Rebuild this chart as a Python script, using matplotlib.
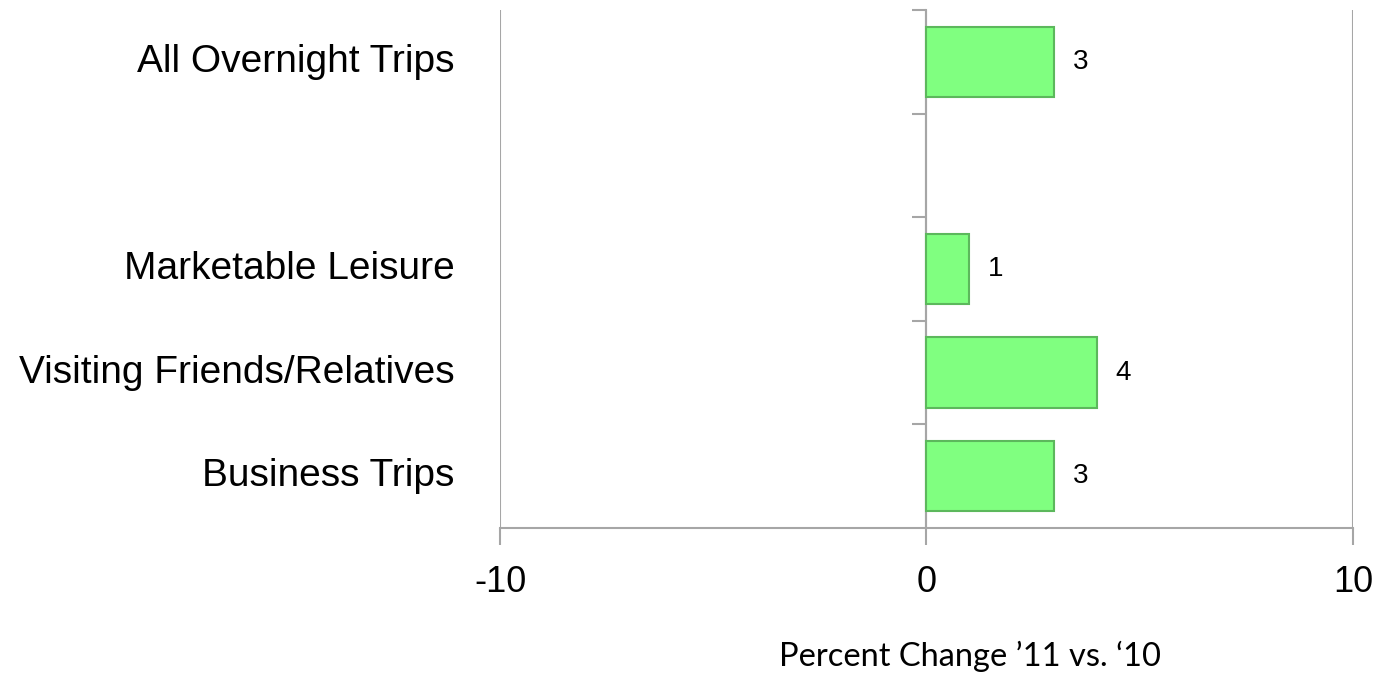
import matplotlib
matplotlib.use("Agg")
import matplotlib.pyplot as plt
from matplotlib.ticker import FixedLocator

categories = ["All Overnight Trips", "", "Marketable Leisure",
              "Visiting Friends/Relatives", "Business Trips"]
values = [3, None, 1, 4, 3]
xticks = [-10, 0, 10]

gray = "#a6a6a6"
fig = plt.figure(figsize=(13.78, 6.74), dpi=100)
ax = fig.add_axes([500/1378, 1-528/674, 853/1378, 518/674])

pos = list(range(len(categories)))
for p, v in zip(pos, values):
    if v is None:
        continue
    ax.barh(p, v, height=0.68, color="#80ff80", edgecolor="#5cb85c", linewidth=1.5, zorder=3)
    ax.text(v + 0.62, p, str(v), va="center", ha="center", fontsize=20,
            family="Liberation Sans", zorder=4)

ax.set_xlim(-10, 10)
ax.set_ylim(len(categories) - 0.5, -0.5)

for s in ["top", "right"]:
    ax.spines[s].set_visible(False)
ax.spines["left"].set_position(("data", 0))
ax.spines["left"].set_color(gray)
ax.spines["left"].set_linewidth(1.5)
ax.spines["bottom"].set_color(gray)
ax.spines["bottom"].set_linewidth(1.5)

ax.set_xticks(xticks)
ax.set_xticklabels([str(t) for t in xticks], fontsize=26, family="Liberation Sans")
ax.tick_params(axis="x", length=12, width=1.5, color=gray, pad=15)
ax.xaxis.grid(True, color=gray, linewidth=1.5, zorder=0)

ax.yaxis.set_major_locator(FixedLocator([]))
ax.yaxis.set_minor_locator(FixedLocator([p - 0.5 for p in pos]))
ax.tick_params(axis="y", which="minor", length=10, width=1.5, color=gray)

for p, c in zip(pos, categories):
    ax.text(-0.053, p, c, transform=ax.get_yaxis_transform(), ha="right", va="center",
            fontsize=28, family="Liberation Sans")

fig.text(970/1378, 1-656/674, "Percent Change \u201911 vs. \u201810", ha="center", va="center",
         fontsize=23.5, family=["Lato", "DejaVu Sans"])

fig.savefig("out.png", dpi=100)
